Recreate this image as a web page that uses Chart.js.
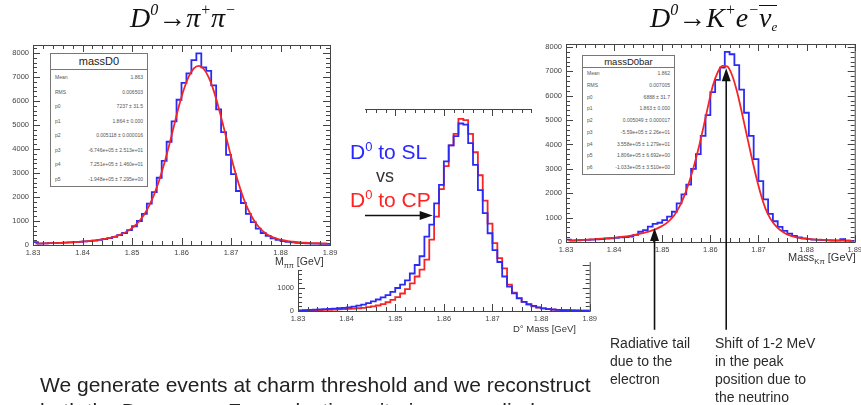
<!DOCTYPE html>
<html>
<head>
<meta charset="utf-8">
<script src="https://cdn.jsdelivr.net/npm/chart.js@4.4.0/dist/chart.umd.min.js"></script>
<style>
html, body { margin: 0; padding: 0; background: #fff; width: 861px; height: 405px; overflow: hidden; position: relative; font-family: "Liberation Sans", Arial, sans-serif; }
canvas, .abs { position: absolute; }
.title { font-family: "Liberation Serif", "Times New Roman", serif; font-style: italic; font-size: 28px; color: #111; white-space: nowrap; z-index: 5; }
.title sup { font-size: 16px; vertical-align: 12px; }
.title sub { font-size: 13px; vertical-align: -4px; }
.ovl { display: inline-block; border-top: 1.5px solid #111; line-height: 24px; margin-top: 4px; }
.stats { background: #fff; border: 1px solid #777; z-index: 5; color: #555; box-sizing: border-box; }
.stats .hd { text-align: center; color: #222; border-bottom: 1px solid #777; }
.stats .row { display: flex; justify-content: space-between; padding: 0 4px; font-size: 5px; }
.axt { color: #333; white-space: nowrap; z-index: 5; }
.axt sub { font-size: 70%; }
.lbl { font-size: 21px; white-space: nowrap; z-index: 5; }
.lbl sup { font-size: 13px; vertical-align: 8px; }
.note { font-size: 14px; line-height: 18px; color: #2a2a2a; z-index: 5; white-space: nowrap; }
</style>
</head>
<body>

<canvas id="midChart" width="330" height="245" style="left:270px; top:95px; z-index:1"></canvas>
<canvas id="pipiChart" width="365" height="270" style="left:0; top:0; z-index:2"></canvas>
<canvas id="kenuChart" width="333" height="340" style="left:532px; top:0; z-index:2"></canvas>

<div class="abs title" style="left:130px; top:1px">D<sup>0</sup>→π<sup>+</sup>π<sup>−</sup></div>
<div class="abs title" style="left:650px; top:1px">D<sup>0</sup>→K<sup>+</sup>e<sup>−</sup><span class="ovl">ν<sub>e</sub></span></div>

<div class="abs stats" id="pipiStats" style="left:50px; top:53px; width:98px; height:134px"></div>
<div class="abs stats" id="kenuStats" style="left:582px; top:55px; width:93px; height:120px"></div>

<div class="abs axt" style="left:275px; top:255px; font-size:10.5px">M<sub>ππ</sub> [GeV]</div>
<div class="abs axt" style="left:513px; top:323px; font-size:9.5px">D° Mass [GeV]</div>
<div class="abs axt" style="left:788px; top:251px; font-size:11px">Mass<sub>Kπ</sub> [GeV]</div>

<div class="abs lbl" style="left:350px; top:139px; color:#2828ff">D<sup>0</sup> to SL</div>
<div class="abs lbl" style="left:376px; top:166px; color:#333; font-size:18px">vs</div>
<div class="abs lbl" style="left:350px; top:187px; color:#ff2222">D<sup>0</sup> to CP</div>

<div class="abs note" style="left:610px; top:334px">Radiative tail<br>due to the<br>electron</div>
<div class="abs note" style="left:715px; top:334px">Shift of 1-2 MeV<br>in the peak<br>position due to<br>the neutrino</div>

<div class="abs" style="left:40px; top:372px; font-size:21px; line-height:26px; color:#222; white-space:nowrap; z-index:5">We generate events at charm threshold and we reconstruct<br>both the D mesons. Few selection criteria are applied.</div>

<script>
// bins of 1 MeV from 1.830 to 1.890 GeV
const binEdges = Array.from({ length: 61 }, (_, i) => +(1.83 + i * 0.001).toFixed(3));
const binCenters = binEdges.slice(0, 60).map(e => +(e + 0.0005).toFixed(4));
const xTicks = [1.83, 1.84, 1.85, 1.86, 1.87, 1.88, 1.89];
const yTicks = [0, 1000, 2000, 3000, 4000, 5000, 6000, 7000, 8000];

// D0 -> pi+ pi-  (histogram and fit)
const pipiHist = [
  120, 60, 70, 80, 80, 90, 100, 110, 120, 130,
  150, 160, 180, 210, 250, 290, 340, 410, 500, 620,
  780, 1000, 1300, 1720, 2200, 2800, 3500, 4300, 5150, 6050,
  6750, 7150, 7700, 7980, 7400, 7250, 6650, 5650, 4700, 3750,
  2950, 2250, 1750, 1300, 950, 680, 500, 380, 280, 210,
  160, 130, 110, 90, 80, 70, 60, 55, 50, 45
];
const pipiFit = [
  60, 65, 70, 75, 80, 90, 100, 110, 120, 135,
  150, 170, 190, 220, 255, 300, 350, 420, 510, 630,
  790, 1000, 1280, 1650, 2120, 2700, 3380, 4150, 4980, 5800,
  6500, 7030, 7360, 7460, 7330, 6980, 6430, 5720, 4920, 4100,
  3300, 2580, 1960, 1460, 1070, 780, 570, 420, 320, 250,
  200, 160, 135, 115, 100, 90, 80, 72, 65, 60
];

// D0 to SL vs D0 to CP
const slHist = [
  30, 40, 50, 60, 70, 80, 90, 100, 120, 140,
  160, 190, 230, 280, 340, 420, 500, 590, 690, 830,
  1000, 1150, 1330, 1630, 2000, 2380, 3230, 3750, 4680, 5480,
  6500, 7200, 7600, 8150, 8100, 7300, 6350, 5250, 4250, 3380,
  2650, 2130, 1500, 1060, 770, 550, 400, 300, 220, 160,
  115, 85, 65, 50, 40, 35, 30, 25, 20, 20
];
const cpHist = [
  20, 25, 30, 35, 40, 45, 50, 60, 70, 80,
  90, 100, 120, 140, 170, 200, 240, 300, 380, 480,
  600, 760, 950, 1200, 1500, 1800, 2230, 3100, 4100, 5300,
  6300, 7200, 7700, 8350, 8300, 7700, 6900, 5900, 4800, 3800,
  2950, 2300, 1850, 1150, 800, 560, 400, 280, 200, 150,
  110, 80, 60, 45, 35, 30, 25, 20, 20, 15
];

// D0 -> K+ e- nubar  (histogram and fit)
const kenuHist = [
  100, 60, 70, 90, 90, 100, 110, 120, 140, 150,
  170, 190, 200, 220, 290, 420, 490, 630, 740, 790,
  900, 1040, 1240, 1580, 1950, 2350, 3000, 3600, 4350, 5200,
  6150, 6650, 7150, 7800, 7700, 7250, 6250, 5300, 4350, 3400,
  2500, 1750, 1150, 850, 620, 460, 340, 250, 190, 150,
  120, 100, 85, 75, 65, 60, 55, 120, 60, 50
];
const kenuFit = [
  60, 70, 80, 90, 100, 110, 125, 140, 155, 170,
  190, 210, 235, 265, 300, 340, 390, 450, 520, 610,
  720, 880, 1100, 1420, 1850, 2400, 3050, 3800, 4650, 5550,
  6400, 6950, 7220, 7200, 6850, 6200, 5350, 4450, 3550, 2700,
  1950, 1350, 950, 680, 490, 360, 270, 210, 170, 140,
  120, 105, 95, 85, 78, 72, 66, 60, 55, 50
];

const pipiStats = [
  ['Mean', '1.863'], ['RMS', '0.006503'], ['p0', '7237 ± 31.5'], ['p1', '1.864 ± 0.000'],
  ['p2', '0.005118 ± 0.000016'], ['p3', '-6.746e+05 ± 2.513e+01'],
  ['p4', '7.251e+05 ± 1.460e+01'], ['p5', '-1.948e+05 ± 7.295e+00']
];
const kenuStats = [
  ['Mean', '1.862'], ['RMS', '0.007005'], ['p0', '6888 ± 31.7'], ['p1', '1.863 ± 0.000'],
  ['p2', '0.005049 ± 0.000017'], ['p3', '-5.59e+05 ± 2.26e+01'], ['p4', '3.558e+05 ± 1.279e+01'],
  ['p5', '1.806e+05 ± 6.692e+00'], ['p6', '-1.033e+05 ± 3.510e+00']
];

function fillStats(id, title, rows, hdH, titleSize) {
  const box = document.getElementById(id);
  const rowH = (box.clientHeight - hdH - 1) / rows.length;
  let html = `<div class="hd" style="height:${hdH}px;line-height:${hdH}px;font-size:${titleSize}px">${title}</div>`;
  rows.forEach(r => {
    html += `<div class="row" style="height:${rowH}px;line-height:${rowH}px"><span>${r[0]}</span><span>${r[1]}</span></div>`;
  });
  box.innerHTML = html;
}
fillStats('pipiStats', 'massD0', pipiStats, 15, 11);
fillStats('kenuStats', 'massD0bar', kenuStats, 11, 9.5);

// histogram as steps over bin edges (value of bin i drawn from edge i to edge i+1)
function histPoints(vals) {
  return binEdges.map((x, i) => ({ x: x, y: vals[Math.min(i, vals.length - 1)] }));
}
function curvePoints(vals) {
  return binCenters.map((x, i) => ({ x: x, y: vals[i] }));
}

function drawArrow(ctx, x1, y1, x2, y2) {
  const ang = Math.atan2(y2 - y1, x2 - x1), L = 13, W = 4.5;
  ctx.beginPath();
  ctx.moveTo(x1, y1);
  ctx.lineTo(x2 - L * 0.8 * Math.cos(ang), y2 - L * 0.8 * Math.sin(ang));
  ctx.stroke();
  ctx.beginPath();
  ctx.moveTo(x2, y2);
  ctx.lineTo(x2 - L * Math.cos(ang) + W * Math.sin(ang), y2 - L * Math.sin(ang) - W * Math.cos(ang));
  ctx.lineTo(x2 - L * Math.cos(ang) - W * Math.sin(ang), y2 - L * Math.sin(ang) + W * Math.cos(ang));
  ctx.closePath();
  ctx.fill();
}

// ROOT-like frame with inward ticks, plus arrows
const rootFrame = {
  id: 'rootFrame',
  beforeDraw(chart, args, opts) {
    const ctx = chart.ctx;
    ctx.save();
    ctx.fillStyle = '#fff';
    ctx.fillRect(0, 0, chart.width, opts.whiteH || chart.height);
    ctx.restore();
  },
  afterDraw(chart, args, opts) {
    const { ctx, chartArea: a } = chart;
    const x = chart.scales.x, y = chart.scales.y;
    ctx.save();
    ctx.strokeStyle = '#444';
    ctx.lineWidth = 1;
    ctx.strokeRect(a.left + 0.5, a.top + 0.5, a.right - a.left, a.bottom - a.top);
    ctx.beginPath();
    for (let i = 0; i <= 30; i++) {
      const px = Math.round(x.getPixelForValue(1.83 + i * 0.002)) + 0.5;
      const len = i % 5 === 0 ? 7 : 4;
      ctx.moveTo(px, a.bottom); ctx.lineTo(px, a.bottom - len);
      ctx.moveTo(px, a.top); ctx.lineTo(px, a.top + len);
    }
    for (let v = 0; v <= y.max; v += 200) {
      const py = Math.round(y.getPixelForValue(v)) + 0.5;
      const len = v % 1000 === 0 ? 7 : 4;
      ctx.moveTo(a.left, py); ctx.lineTo(a.left + len, py);
      ctx.moveTo(a.right, py); ctx.lineTo(a.right - len, py);
    }
    ctx.stroke();
    ctx.strokeStyle = '#111';
    ctx.fillStyle = '#111';
    ctx.lineWidth = 1.6;
    (opts.arrows || []).forEach(ar => {
      drawArrow(ctx, x.getPixelForValue(ar.from[0]), y.getPixelForValue(ar.from[1]),
        x.getPixelForValue(ar.to[0]), y.getPixelForValue(ar.to[1]));
    });
    ctx.restore();
  }
};

Chart.defaults.font.family = '"Liberation Sans", Arial, sans-serif';

function makeChart(id, datasets, o) {
  return new Chart(document.getElementById(id), {
    type: 'line',
    data: { datasets: datasets },
    options: {
      responsive: false,
      animation: false,
      layout: { padding: o.pad },
      elements: { point: { radius: 0 } },
      plugins: {
        legend: { display: false },
        tooltip: { enabled: false },
        rootFrame: o.frame
      },
      scales: {
        x: {
          type: 'linear', min: 1.83, max: 1.89,
          grid: { display: false, drawTicks: false },
          border: { display: false },
          afterFit: s => { s.height = o.xh; },
          afterBuildTicks: s => { s.ticks = xTicks.map(v => ({ value: v })); },
          ticks: { padding: 3, color: '#444', font: { size: 7.5 }, maxRotation: 0, autoSkip: false,
            callback: v => v.toFixed(2) }
        },
        y: {
          type: 'linear', min: 0, max: o.ymax,
          grid: { display: false, drawTicks: false },
          border: { display: false },
          afterFit: s => { s.width = o.yw; },
          afterBuildTicks: s => { s.ticks = yTicks.filter(v => v <= o.ymax).map(v => ({ value: v })); },
          ticks: { padding: 4, color: '#444', font: { size: 7.5 }, callback: v => String(v) }
        }
      }
    },
    plugins: [rootFrame]
  });
}

const blue = '#2b2bf5', red = '#f52525';

makeChart('pipiChart', [
  { data: curvePoints(pipiFit), borderColor: red, borderWidth: 1.8, tension: 0.4, cubicInterpolationMode: 'monotone' },
  { data: histPoints(pipiHist), borderColor: blue, borderWidth: 1.8, stepped: 'before' }
], { pad: { left: 0, right: 35, top: 45, bottom: 0 }, yw: 33, xh: 25, ymax: 8330, frame: {} });

makeChart('midChart', [
  { data: histPoints(slHist), borderColor: blue, borderWidth: 1.8, stepped: 'before' },
  { data: histPoints(cpHist), borderColor: red, borderWidth: 1.8, stepped: 'before' }
], { pad: { left: 0, right: 5, top: 14, bottom: 0 }, yw: 28, xh: 29, ymax: 8780,
  frame: { arrows: [{ from: [1.8405, 4150], to: [1.8577, 4150] }] } });

makeChart('kenuChart', [
  { data: curvePoints(kenuFit), borderColor: red, borderWidth: 1.8, tension: 0.4, cubicInterpolationMode: 'monotone' },
  { data: histPoints(kenuHist), borderColor: blue, borderWidth: 1.8, stepped: 'before' }
], { pad: { left: 0, right: 3, top: 44, bottom: 0 }, yw: 34, xh: 98, ymax: 8120,
  frame: { whiteH: 262, arrows: [
    { from: [1.8484, -3600], to: [1.8484, 570] },
    { from: [1.8633, -3600], to: [1.8633, 7130] }
  ] } });
</script>
</body>
</html>
